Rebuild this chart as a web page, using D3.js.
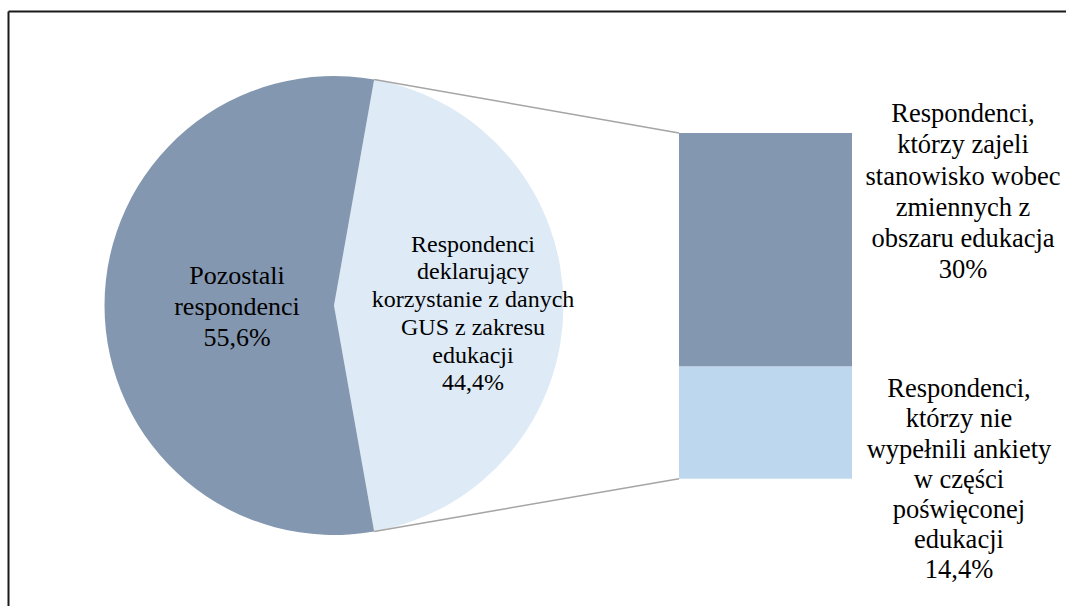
<!DOCTYPE html>
<html>
<head>
<meta charset="utf-8">
<script src="https://cdn.jsdelivr.net/npm/d3@7"></script>
<style>
  html, body { margin: 0; padding: 0; background: #ffffff; }
  svg { display: block; }
</style>
</head>
<body>
<svg id="chart" width="1066" height="606"></svg>
<script>
// ---- data ----
const pieCategories = ["Respondenci deklarujący korzystanie z danych GUS z zakresu edukacji", "Pozostali respondenci"];
const pieValues = [44.4, 55.6];
const pieLabelLines = [
  ["Respondenci", "deklarujący", "korzystanie z danych", "GUS z zakresu", "edukacji", "44,4%"],
  ["Pozostali", "respondenci", "55,6%"]
];
const barCategories = ["Respondenci, którzy zajeli stanowisko wobec zmiennych z obszaru edukacja", "Respondenci, którzy nie wypełnili ankiety w części poświęconej edukacji"];
const barValues = [30, 14.4];
const barLabelLines = [
  ["Respondenci,", "którzy zajeli", "stanowisko wobec", "zmiennych z", "obszaru edukacja", "30%"],
  ["Respondenci,", "którzy nie", "wypełnili ankiety", "w części", "poświęconej", "edukacji", "14,4%"]
];
const pieColors = ["#deebf7", "#8497b0"];
const barColors = ["#8497b0", "#bdd7ee"];

// ---- layout ----
const svg = d3.select("#chart");
const cx = 334, cy = 305.5, r = 229.5;
const barX0 = 679, barX1 = 852, barY0 = 133, barY1 = 478.7;
const FONT = "Liberation Serif";

// frame
svg.append("line").attr("x1", 8.5).attr("y1", 11.5).attr("x2", 1066).attr("y2", 11.5)
  .attr("stroke", "#1a1a1a").attr("stroke-width", 2);
svg.append("line").attr("x1", 8.5).attr("y1", 11.5).attr("x2", 8.5).attr("y2", 606)
  .attr("stroke", "#1a1a1a").attr("stroke-width", 2);

// pie
const total = d3.sum(pieValues);
const start = Math.PI / 2 - (pieValues[0] / total) * Math.PI;
const pie = d3.pie().sort(null).startAngle(start).endAngle(start + 2 * Math.PI);
const arcs = pie(pieValues);
const arc = d3.arc().innerRadius(0).outerRadius(r);
const g = svg.append("g").attr("transform", `translate(${cx},${cy})`);
g.selectAll("path").data(arcs).enter().append("path")
  .attr("d", arc).attr("fill", (d, i) => pieColors[i]);

// bar (stacked)
const yScale = d3.scaleLinear().domain([0, d3.sum(barValues)]).range([barY0, barY1]);
let acc = 0;
const stacks = barValues.map(v => { const s = { y0: acc, y1: acc + v }; acc += v; return s; });
svg.selectAll("rect.bar").data(stacks).enter().append("rect")
  .attr("class", "bar")
  .attr("x", barX0).attr("width", barX1 - barX0)
  .attr("y", d => yScale(d.y0)).attr("height", d => yScale(d.y1) - yScale(d.y0))
  .attr("fill", (d, i) => barColors[i]);

// connector lines
const a0 = arcs[0].startAngle, a1 = arcs[0].endAngle;
const p0 = [cx + r * Math.sin(a0), cy - r * Math.cos(a0)];
const p1 = [cx + r * Math.sin(a1), cy - r * Math.cos(a1)];
svg.append("line").attr("x1", p0[0]).attr("y1", p0[1]).attr("x2", barX0).attr("y2", yScale(0))
  .attr("stroke", "#a5a5a5").attr("stroke-width", 1.5);
svg.append("line").attr("x1", p1[0]).attr("y1", p1[1]).attr("x2", barX0).attr("y2", yScale(d3.sum(barValues)))
  .attr("stroke", "#a5a5a5").attr("stroke-width", 1.5);

// labels
function multiLabel(x, firstBaseline, lines, size, lh) {
  const t = svg.append("text").attr("text-anchor", "middle")
    .attr("font-family", FONT).attr("font-size", size).attr("fill", "#000");
  lines.forEach((l, i) => t.append("tspan").attr("x", x).attr("y", firstBaseline + i * lh).text(l));
}
multiLabel(473, 251.7, pieLabelLines[0], 24, 27.7);
multiLabel(237, 284.3, pieLabelLines[1], 26, 30.7);
multiLabel(963, 122.3, barLabelLines[0], 26.5, 31.1);
multiLabel(959, 397.3, barLabelLines[1], 26.5, 30.1);
</script>
</body>
</html>
